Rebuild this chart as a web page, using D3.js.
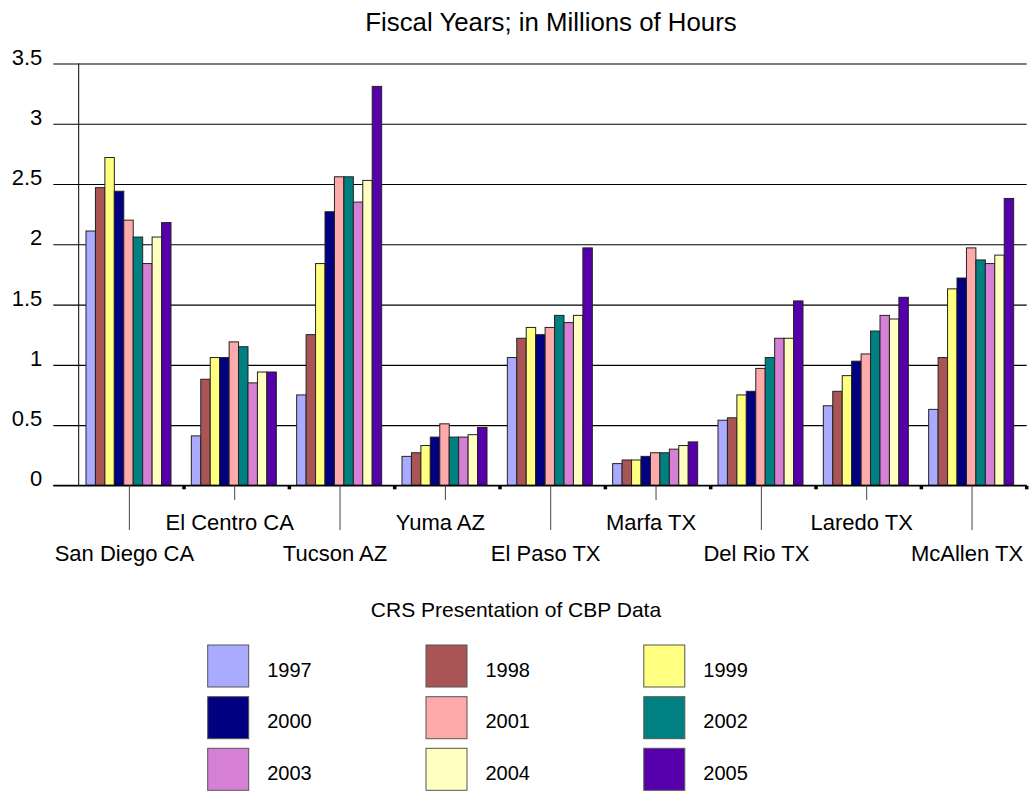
<!DOCTYPE html>
<html>
<head>
<meta charset="utf-8">
<script src="https://cdn.jsdelivr.net/npm/d3@7"></script>
<style>
  html, body { margin: 0; padding: 0; background: #fff; }
  svg { display: block; font-family: "Liberation Sans", Arial, sans-serif; }
</style>
</head>
<body>
<svg id="chart" width="1031" height="791"></svg>
<script>
// ---- data ----
const categories = ["San Diego CA", "El Centro CA", "Tucson AZ", "Yuma AZ", "El Paso TX",
                    "Marfa TX", "Del Rio TX", "Laredo TX", "McAllen TX"];
const years = ["1997", "1998", "1999", "2000", "2001", "2002", "2003", "2004", "2005"];
const v1997 = [2.11, 0.41, 0.75, 0.24, 1.06, 0.18, 0.54, 0.66, 0.63];
const v1998 = [2.47, 0.88, 1.25, 0.27, 1.22, 0.21, 0.56, 0.78, 1.06];
const v1999 = [2.72, 1.06, 1.84, 0.33, 1.31, 0.21, 0.75, 0.91, 1.63];
const v2000 = [2.44, 1.06, 2.27, 0.40, 1.25, 0.24, 0.78, 1.03, 1.72];
const v2001 = [2.20, 1.19, 2.56, 0.51, 1.31, 0.27, 0.97, 1.09, 1.97];
const v2002 = [2.06, 1.15, 2.56, 0.40, 1.41, 0.27, 1.06, 1.28, 1.87];
const v2003 = [1.84, 0.85, 2.35, 0.40, 1.35, 0.30, 1.22, 1.41, 1.84];
const v2004 = [2.06, 0.94, 2.53, 0.42, 1.41, 0.33, 1.22, 1.38, 1.91];
const v2005 = [2.18, 0.94, 3.31, 0.48, 1.97, 0.36, 1.53, 1.56, 2.38];
const seriesValues = [v1997, v1998, v1999, v2000, v2001, v2002, v2003, v2004, v2005];
const yTickValues = [0, 0.5, 1, 1.5, 2, 2.5, 3, 3.5];
const yTickLabels = ["0", "0.5", "1", "1.5", "2", "2.5", "3", "3.5"];
const colors = ["#aaaaff", "#aa5555", "#ffff80", "#000080", "#ffaaaa", "#008080", "#d580d5", "#ffffc0", "#5500aa"];
const chartTitle = "Fiscal Years; in Millions of Hours";
const legendTitle = "CRS Presentation of CBP Data";

// ---- layout ----
const svg = d3.select("#chart");
const plotLeft = 78.7, plotRight = 1026.7, plotTop = 63.5, plotBottom = 485.3;
const gridLeft = 53.3;

const x = d3.scaleBand().domain(categories).range([plotLeft, plotRight]).padding(0);
const xInner = d3.scaleBand().domain(years).range([7.3, 92.3]).padding(0);
const y = d3.scaleLinear().domain([0, 3.5]).range([plotBottom, plotTop]);
const color = d3.scaleOrdinal().domain(years).range(colors);

// title
svg.append("text")
  .attr("x", 551).attr("y", 30.5)
  .attr("text-anchor", "middle")
  .attr("font-size", 25.8)
  .attr("fill", "#000")
  .text(chartTitle);

// y axis with gridlines
const yAxis = d3.axisLeft(y)
  .tickValues(yTickValues)
  .tickFormat((d, i) => yTickLabels[i])
  .tickSize(-(plotRight - gridLeft))
  .tickPadding(11);
const gy = svg.append("g")
  .attr("transform", `translate(${gridLeft},0)`)
  .call(yAxis);
gy.select(".domain").remove();
gy.selectAll(".tick line").attr("stroke", "#000").attr("stroke-width", 1.2);
gy.selectAll(".tick text")
  .attr("dy", "0em").attr("y", 0.5)
  .attr("font-size", 22)
  .attr("font-family", "Liberation Sans, Arial, sans-serif")
  .attr("fill", "#000");

// vertical axis line
svg.append("line")
  .attr("x1", plotLeft).attr("x2", plotLeft)
  .attr("y1", plotTop).attr("y2", plotBottom)
  .attr("stroke", "#000").attr("stroke-width", 1);

// bars
const flat = [];
categories.forEach((c, ci) => {
  years.forEach((yr, si) => {
    flat.push({ cat: c, year: yr, value: seriesValues[si][ci] });
  });
});
svg.append("g").selectAll("rect")
  .data(flat)
  .join("rect")
  .attr("x", d => x(d.cat) + xInner(d.year))
  .attr("y", d => y(d.value))
  .attr("width", xInner.bandwidth())
  .attr("height", d => y(0) - y(d.value))
  .attr("fill", d => color(d.year))
  .attr("stroke", "#222")
  .attr("stroke-width", 1);

// baseline redraw on top
svg.append("line")
  .attr("x1", gridLeft).attr("x2", plotRight)
  .attr("y1", y(0)).attr("y2", y(0))
  .attr("stroke", "#000").attr("stroke-width", 1.2);

// category ticks and labels (staggered)
const gx = svg.append("g");
categories.forEach((c, i) => {
  const cx = x(c) + x.bandwidth() / 2;
  const even = i % 2 === 0;
  gx.append("line")
    .attr("x1", cx - 2).attr("x2", cx - 2)
    .attr("y1", y(0)).attr("y2", even ? 530 : 500)
    .attr("stroke", "#444").attr("stroke-width", 1);
  gx.append("text")
    .attr("x", cx - 7).attr("y", even ? 561 : 529.5)
    .attr("text-anchor", "middle")
    .attr("font-size", 22)
    .attr("fill", "#000")
    .text(c);
});
// small boundary markers
const bounds = d3.range(1, categories.length + 1).map(i => plotLeft + i * x.bandwidth());
gx.selectAll("rect.mark")
  .data(bounds)
  .join("rect")
  .attr("class", "mark")
  .attr("x", d => d - 1.75).attr("y", y(0) + 0.5)
  .attr("width", 3.5).attr("height", 3.5)
  .attr("fill", "#000");

// legend
svg.append("text")
  .attr("x", 516).attr("y", 617)
  .attr("text-anchor", "middle")
  .attr("font-size", 21)
  .attr("fill", "#000")
  .text(legendTitle);

const legendCols = [207.7, 426, 643.8];
const legendRows = [645, 696.7, 748.3];
const lg = svg.append("g");
years.forEach((yr, i) => {
  const col = i % 3, row = Math.floor(i / 3);
  lg.append("rect")
    .attr("x", legendCols[col]).attr("y", legendRows[row])
    .attr("width", 41).attr("height", 42)
    .attr("fill", color(yr))
    .attr("stroke", "#555").attr("stroke-width", 1);
  lg.append("text")
    .attr("x", legendCols[col] + 59.5).attr("y", legendRows[row] + 31.5)
    .attr("font-size", 20)
    .attr("fill", "#000")
    .text(yr);
});
</script>
</body>
</html>
